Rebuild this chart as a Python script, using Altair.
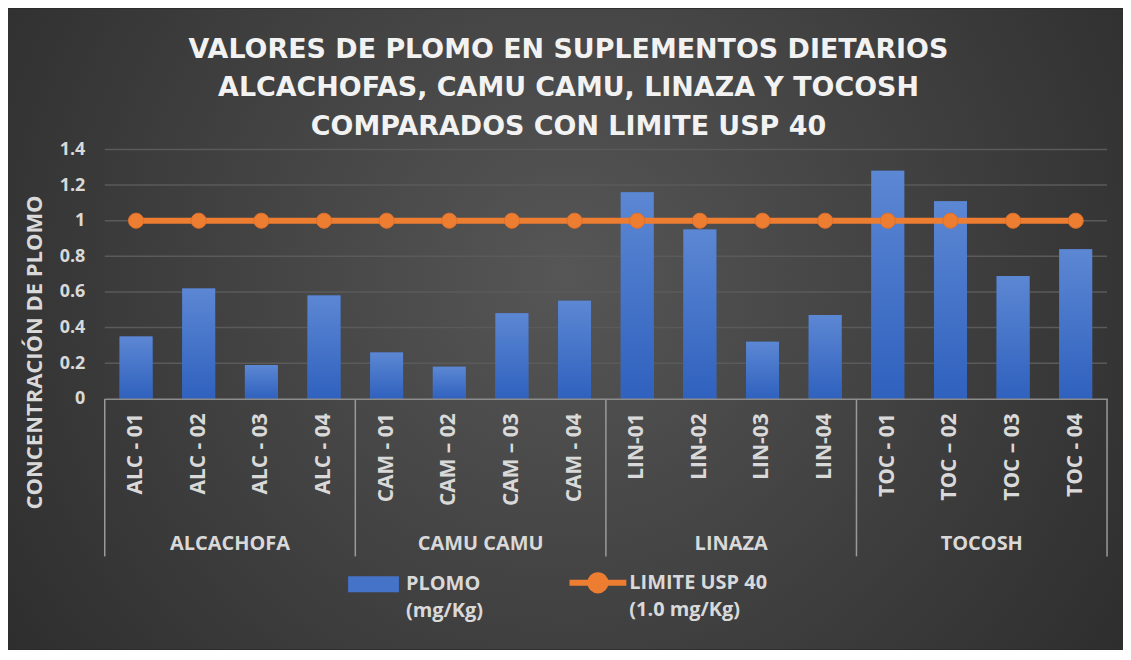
import altair as alt
import pandas as pd

categorias = ["ALC - 01", "ALC - 02", "ALC - 03", "ALC - 04",
              "CAM - 01", "CAM – 02", "CAM – 03", "CAM - 04",
              "LIN-01", "LIN-02", "LIN-03", "LIN-04",
              "TOC - 01", "TOC – 02", "TOC – 03", "TOC - 04"]
grupos = ["ALCACHOFA"] * 4 + ["CAMU CAMU"] * 4 + ["LINAZA"] * 4 + ["TOCOSH"] * 4
plomo = [0.35, 0.62, 0.19, 0.58, 0.26, 0.18, 0.48, 0.55,
         1.16, 0.95, 0.32, 0.47, 1.28, 1.11, 0.69, 0.84]
limite = [1.0] * 16
grupo_nombres = ["ALCACHOFA", "CAMU CAMU", "LINAZA", "TOCOSH"]
grupo_centro = ["ALC - 02", "CAM – 02", "LIN-02", "TOC – 02"]
grupo_inicio = ["ALC - 01", "CAM - 01", "LIN-01", "TOC - 01"]
grupo_fin = ["TOC - 04"]
y_ticks = [0, 0.2, 0.4, 0.6, 0.8, 1.0, 1.2, 1.4]
titulo = ["VALORES DE PLOMO EN SUPLEMENTOS DIETARIOS",
          "ALCACHOFAS, CAMU CAMU, LINAZA Y TOCOSH",
          "COMPARADOS CON LIMITE USP 40"]
serie_barra = "PLOMO|(mg/Kg)"
serie_linea = "LIMITE USP 40|(1.0 mg/Kg)"

df = pd.DataFrame({"cat": categorias, "grupo": grupos, "plomo": plomo,
                   "limite": limite, "s_bar": serie_barra, "s_line": serie_linea})
df_centro = pd.DataFrame({"cat": grupo_centro, "nombre": grupo_nombres})
df_inicio = pd.DataFrame({"cat": grupo_inicio})
df_fin = pd.DataFrame({"cat": grupo_fin})
df_grid = pd.DataFrame({"v": [t for t in y_ticks if t > 0]})

FONT = "Open Sans"
LBL = "#D9D9D9"
ORANGE = "#ED7D31"
BLUE = "#4473C8"

x_scale = alt.Scale(domain=categorias, paddingInner=0, paddingOuter=0)
x_axis = alt.Axis(title=None, labelAngle=-90, labelFont=FONT, labelFontSize=21,
                  labelFontWeight="bold", labelColor=LBL, labelPadding=14,
                  ticks=False, tickSize=0, domainColor="#8C8C8C", domainWidth=1.5,
                  grid=False, zindex=1)


def xenc(**kw):
    return alt.X("cat:N", scale=x_scale, axis=x_axis, **kw)


y_scale = alt.Scale(domain=[0, 1.4], nice=False, zero=True)
y_axis = alt.Axis(values=y_ticks, format="~g", title="CONCENTRACIÓN DE PLOMO", grid=False,
                  ticks=False, tickSize=0, domain=False, labelFont=FONT,
                  labelFontSize=18, labelFontWeight="bold", labelColor=LBL,
                  labelPadding=20, titleFont=FONT, titleFontSize=22,
                  titleFontWeight="bold", titleColor=LBL, titleAngle=270,
                  titleX=-70, titleY=203, titleAlign="center",
                  titleBaseline="middle", zindex=1)

bg_gradient = {"gradient": "radial", "x1": 0.5, "y1": 0.45, "r1": 0,
               "x2": 0.5, "y2": 0.45, "r2": 0.72,
               "stops": [{"offset": 0, "color": "#565656"},
                         {"offset": 1, "color": "#262626"}]}
bar_gradient = {"gradient": "linear", "x1": 0, "y1": 0, "x2": 0, "y2": 1,
                "stops": [{"offset": 0, "color": "#5C87D3"},
                          {"offset": 1, "color": "#2F61BE"}]}

W, H = 1005, 250
PL, PT = 97, 141
TOTW, TOTH = 1118, 642

fondo = alt.Chart(alt.Data(values=[{"a": 1}])).mark_rect(fill=bg_gradient).encode(
    x=alt.value(-PL), x2=alt.value(TOTW - PL), y=alt.value(-PT), y2=alt.value(TOTH - PT))

grid = alt.Chart(df_grid).mark_rule(color="#5A5A5A", strokeWidth=1.5).encode(
    y=alt.Y("v:Q", scale=y_scale, axis=y_axis))

barras_leyenda = alt.Chart(df).mark_bar(width={"band": 0.525}).encode(
    x=xenc(),
    y=alt.Y("plomo:Q", scale=y_scale, axis=y_axis),
    color=alt.Color("s_bar:N", scale=alt.Scale(domain=[serie_barra], range=[BLUE]),
                    legend=alt.Legend(title=None, orient="none", legendX=244, legendY=419,
                                      symbolType="M-1,-0.47H2V0.47H-1Z", symbolSize=1156,
                                      symbolStrokeWidth=0, labelOffset=24,
                                      labelExpr="split(datum.label, '|')",
                                      labelFont=FONT, labelFontSize=20,
                                      labelFontWeight="bold", labelColor=LBL,
                                      labelLimit=300, padding=0, zindex=1)))

barras = alt.Chart(df).mark_bar(width={"band": 0.525}, fill=bar_gradient).encode(
    x=xenc(), y=alt.Y("plomo:Q", scale=y_scale, axis=y_axis))

linea = alt.Chart(df).mark_line(strokeWidth=6).encode(
    x=xenc(),
    y=alt.Y("limite:Q", scale=y_scale, axis=y_axis),
    stroke=alt.Stroke("s_line:N", scale=alt.Scale(domain=[serie_linea], range=[ORANGE]),
                      legend=alt.Legend(title=None, orient="none", legendX=463, legendY=422,
                                        symbolType="M-1,0H5M1.2,0A0.8,0.8 0 1,1 2.8,0A0.8,0.8 0 1,1 1.2,0Z",
                                        symbolSize=361, symbolStrokeWidth=6,
                                        symbolFillColor=ORANGE, labelOffset=38,
                                        labelExpr="split(datum.label, '|')",
                                        labelFont=FONT, labelFontSize=20,
                                        labelFontWeight="bold", labelColor=LBL,
                                        labelLimit=300, padding=0, zindex=1)))

puntos = alt.Chart(df).mark_point(filled=True, size=230, color=ORANGE, opacity=1,
                                  stroke="#E0702A", strokeWidth=1).encode(
    x=xenc(), y=alt.Y("limite:Q", scale=y_scale, axis=y_axis))

divisores = alt.Chart(df_inicio).mark_rule(color="#9A9A9A", strokeWidth=1.5).encode(
    x=xenc(bandPosition=0), y=alt.value(H), y2=alt.value(408))
divisor_fin = alt.Chart(df_fin).mark_rule(color="#9A9A9A", strokeWidth=1.5).encode(
    x=xenc(bandPosition=1), y=alt.value(H), y2=alt.value(408))

etiquetas_grupo = alt.Chart(df_centro).mark_text(
    font=FONT, fontSize=20, fontWeight="bold", color=LBL, baseline="middle",
    align="center").encode(x=xenc(bandPosition=1), y=alt.value(396), text="nombre:N")

chart = alt.layer(fondo, grid, barras_leyenda, barras, linea, puntos,
                  divisores, divisor_fin, etiquetas_grupo).properties(
    width=W, height=H,
    autosize=alt.AutoSizeParams(type="none"),
    padding={"left": PL, "top": PT, "right": TOTW - PL - W, "bottom": TOTH - PT - H},
    background="#2A2A2A",
    title=alt.TitleParams(text=titulo, font="DejaVu Sans", fontSize=27,
                          fontWeight="bold", color="#F2F2F2", lineHeight=38.5,
                          anchor="middle", frame="bounds", baseline="bottom",
                          offset=0, dx=3, dy=159, zindex=1)
).configure(view={"strokeWidth": 0}, style={"guide-label": {"lineHeight": 27}})

chart.save("out.html", embed_options={"renderer": "svg", "actions": False})
